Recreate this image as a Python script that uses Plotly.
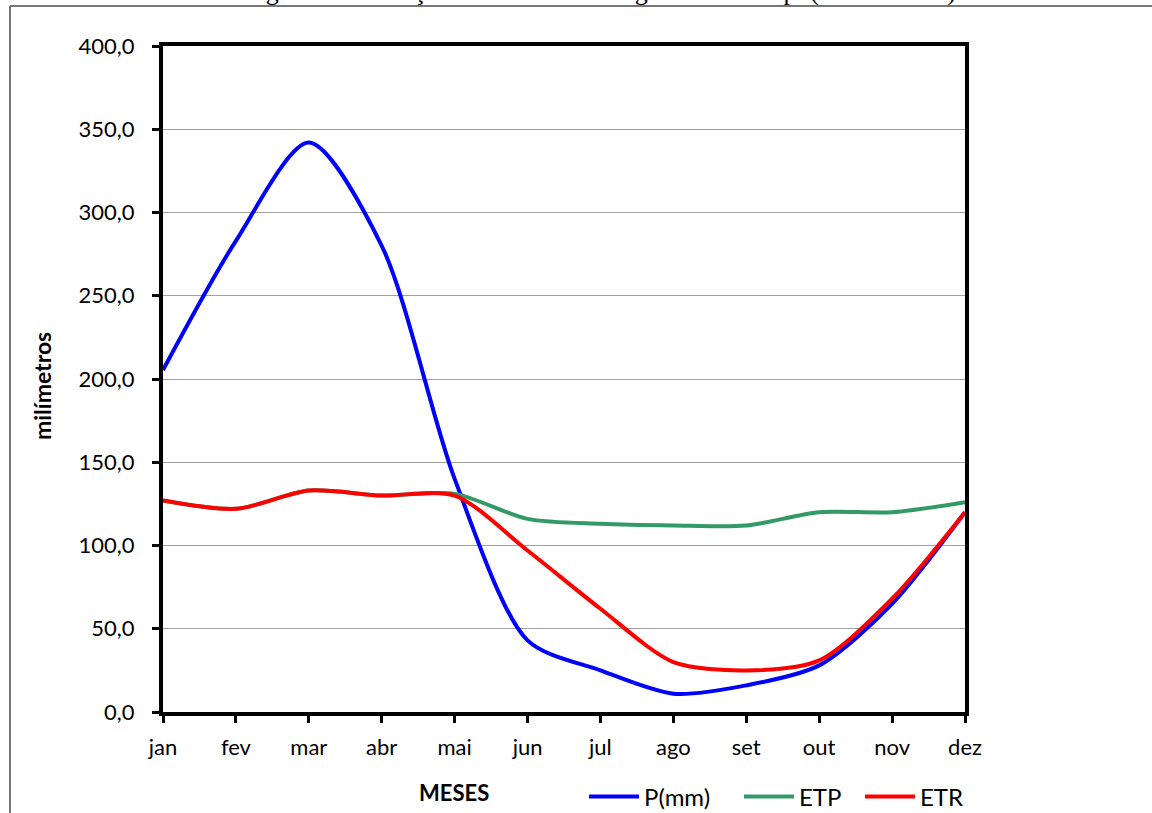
import plotly.graph_objects as go

meses = ["jan", "fev", "mar", "abr", "mai", "jun", "jul", "ago", "set", "out", "nov", "dez"]
p_mm = [205.4, 283.0, 342.0, 280.0, 140.0, 43.0, 25.0, 11.0, 16.0, 28.0, 65.0, 120.0]
etp = [127.0, 122.0, 133.0, 130.0, 131.0, 116.0, 113.0, 112.0, 112.0, 120.0, 120.0, 126.0]
etr = [127.0, 122.0, 133.0, 130.0, 130.0, 97.0, 62.0, 30.0, 25.0, 31.0, 68.0, 120.0]
y_ticks = [0, 50, 100, 150, 200, 250, 300, 350, 400]

W, H = 1152, 813
L, R, T, B = 163, 965, 46, 712

def px(x):
    return (x - L) / (R - L)

def py(y):
    return (B - y) / (B - T)

FONT = "Lato, Carlito, Calibri, sans-serif"

series = [("P(mm)", p_mm, "#0000FF", "legend", 584),
          ("ETP", etp, "#339966", "legend2", 739),
          ("ETR", etr, "#FF0000", "legend3", 860)]

fig = go.Figure()
xs = list(range(len(meses)))
legends = {}
for name, vals, color, lg, lx in series:
    fig.add_trace(go.Scatter(x=xs, y=vals, name=name, mode="lines", legend=lg,
                             line=dict(color=color, width=4, shape="spline", smoothing=0.8)))
    legends[lg] = dict(orientation="h", x=px(lx), y=py(797), xanchor="left", yanchor="middle",
                       font=dict(family=FONT, size=24), itemwidth=50,
                       bgcolor="rgba(0,0,0,0)")

fig.update_layout(
    width=W, height=H,
    margin=dict(l=L, r=W - R, t=T, b=H - B, autoexpand=False),
    paper_bgcolor="white", plot_bgcolor="white",
    separators=",.",
    font=dict(family=FONT, size=22, color="black"),
    showlegend=True,
    **legends,
    xaxis=dict(tickmode="array", tickvals=xs, ticktext=meses, range=[0, 11],
               showgrid=False, zeroline=False, showline=True, linecolor="black", linewidth=4,
               mirror=True, ticks="outside", ticklen=7, tickwidth=3, tickcolor="black",
               ticklabelstandoff=6),
    yaxis=dict(range=[0, 400], tickvals=y_ticks, tickformat=".1f",
               showgrid=True, gridcolor="#A0A0A0", gridwidth=1, zeroline=False,
               showline=True, linecolor="black", linewidth=4, mirror=True,
               ticks="outside", ticklen=7, tickwidth=3, tickcolor="black",
               ticklabelstandoff=13),
    shapes=[
        dict(type="line", xref="paper", yref="paper", x0=px(10), x1=px(10), y0=py(6), y1=py(820),
             line=dict(color="#777777", width=2)),
        dict(type="line", xref="paper", yref="paper", x0=px(10), x1=px(1160), y0=py(6), y1=py(6),
             line=dict(color="#777777", width=2)),
    ],
    annotations=[
        dict(text="Figura 7 - Balanço Hídrico Climatológico Rio Gurupi (1994 a 2024)",
             xref="paper", yref="paper", x=px(600), y=py(-8), xanchor="center", yanchor="middle",
             showarrow=False, font=dict(family="Liberation Serif, Times New Roman, serif", size=26)),
        dict(text="<b>milímetros</b>", xref="paper", yref="paper", x=px(42), y=py(386),
             xanchor="center", yanchor="middle", textangle=-90, showarrow=False,
             font=dict(family=FONT, size=23)),
        dict(text="<b>MESES</b>", xref="paper", yref="paper", x=px(454), y=py(792),
             xanchor="center", yanchor="middle", showarrow=False,
             font=dict(family=FONT, size=22)),
    ],
)

fig.write_html("out.html", config={"displayModeBar": False},
               post_script="document.body.style.margin='0';document.body.style.overflow='hidden';")
